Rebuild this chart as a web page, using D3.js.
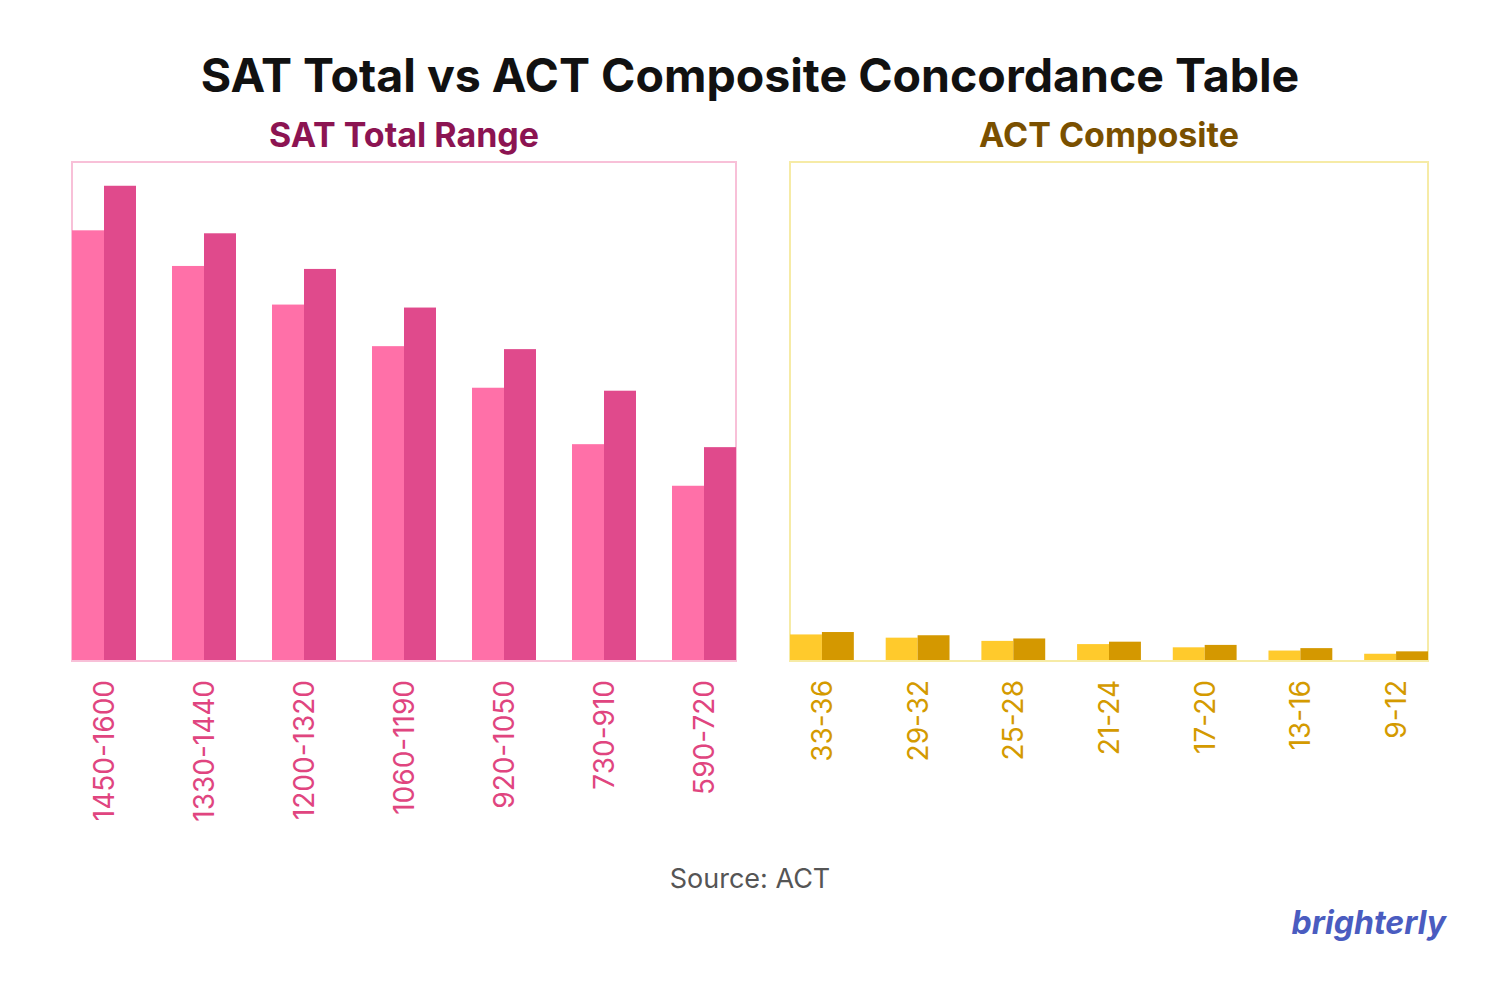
<!DOCTYPE html>
<html><head><meta charset="utf-8">
<script src="https://cdn.jsdelivr.net/npm/d3@7"></script>
<style>body{margin:0;background:#fff}</style>
</head><body><div id="chart"></div>
<script>
// Data
const satLabels = ['1450-1600', '1330-1440', '1200-1320', '1060-1190', '920-1050', '730-910', '590-720']
const satLow = [1450, 1330, 1200, 1060, 920, 730, 590]
const satHigh = [1600, 1440, 1320, 1190, 1050, 910, 720]
const actLabels = ['33-36', '29-32', '25-28', '21-24', '17-20', '13-16', '9-12']
const actLow = [33, 29, 25, 21, 17, 13, 9]
const actHigh = [36, 32, 28, 24, 20, 16, 12]

const svg = d3.select('#chart').append('svg').attr('width', 1500).attr('height', 1000)
const font = 'Inter, "Noto Sans", sans-serif'

svg.append('text').attr('x', 750).attr('y', 92).attr('text-anchor', 'middle')
    .attr('font-family', font).attr('font-weight', 700).attr('font-size', 46.5).attr('fill', '#111')
    .text('SAT Total vs ACT Composite Concordance Table')

function panel(opt) {
    const x = d3.scaleBand().domain(opt.labels).range([opt.x0, opt.x1]).paddingInner(opt.pad)
    const y = d3.scaleLinear().domain([0, opt.max]).range([661, 162])
    svg.append('text').attr('x', (opt.x0 + opt.x1) / 2).attr('y', 147).attr('text-anchor', 'middle')
        .attr('font-family', font).attr('font-weight', 700).attr('font-size', 34).attr('fill', opt.titleColor)
        .text(opt.title)
    svg.append('rect').attr('x', opt.x0).attr('y', 162).attr('width', opt.x1 - opt.x0).attr('height', 499)
        .attr('fill', 'none').attr('stroke', opt.frame).attr('stroke-width', 2)
    const bw = x.bandwidth() / 2
    const g = svg.append('g')
    g.selectAll('.lo').data(opt.labels).join('rect')
        .attr('x', d => x(d)).attr('width', bw)
        .attr('y', (d, i) => y(opt.low[i])).attr('height', (d, i) => 661 - y(opt.low[i]))
        .attr('fill', opt.c1)
    g.selectAll('.hi').data(opt.labels).join('rect')
        .attr('x', d => x(d) + bw).attr('width', bw)
        .attr('y', (d, i) => y(opt.high[i])).attr('height', (d, i) => 661 - y(opt.high[i]))
        .attr('fill', opt.c2)
    svg.append('line').attr('x1', opt.x0).attr('x2', opt.x1).attr('y1', 661).attr('y2', 661)
        .attr('stroke', opt.frame).attr('stroke-width', 2)
    svg.selectAll(null).data(opt.labels).join('text')
        .attr('transform', d => `translate(${x(d) + x.bandwidth() / 2 + 10},680) rotate(-90)`)
        .attr('text-anchor', 'end').attr('font-family', font).attr('font-size', 28)
        .attr('fill', opt.labelColor).text(d => d)
}

panel({ labels: satLabels, low: satLow, high: satHigh, x0: 72, x1: 736, pad: 0.36, max: 1680,
    title: 'SAT Total Range', titleColor: '#8c1452', frame: '#f8c0d8',
    c1: '#ff70a8', c2: '#e04a8c', labelColor: '#e0457f' })
panel({ labels: actLabels, low: actLow, high: actHigh, x0: 790, x1: 1428, pad: 0.333, max: 620,
    title: 'ACT Composite', titleColor: '#7a5000', frame: '#f6eba6',
    c1: '#ffca2c', c2: '#d49800', labelColor: '#d49a00' })

svg.append('text').attr('x', 750).attr('y', 888).attr('text-anchor', 'middle')
    .attr('font-family', font).attr('font-size', 27).attr('fill', '#555').text('Source: ACT')
svg.append('text').attr('x', 1446).attr('y', 934).attr('text-anchor', 'end')
    .attr('font-family', font).attr('font-weight', 700).attr('font-style', 'italic')
    .attr('font-size', 32).attr('fill', '#4a5cc0').text('brighterly')
</script></body></html>
